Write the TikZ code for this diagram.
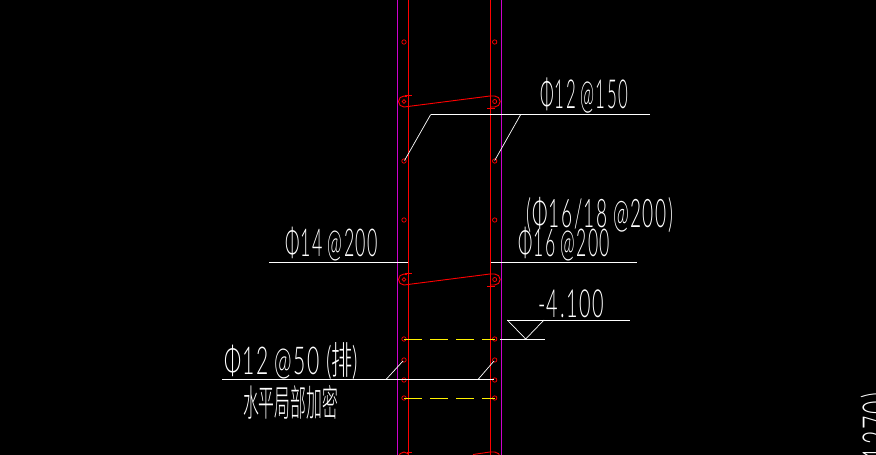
\documentclass[tikz,border=0pt]{standalone}
\usepackage{graphicx}
\usepackage{fontspec}
\setmainfont{Lato Light}[LetterSpace=8,WordSpace=0.8]
\newfontfamily\cjk{Noto Sans CJK SC Light}
\newcommand{\cadtext}[3]{\resizebox{#1pt}{#2pt}{\rule[-0.12em]{0pt}{0.92em}#3}}
\definecolor{wallline}{RGB}{204,0,204}
\tikzset{
  bar/.style={red, line width=1.1pt},
  stirrup/.style={red, line width=0.9pt},
  dot/.style={red, line width=0.7pt},
  leader/.style={white, line width=1pt},
  thinleader/.style={white, line width=0.7pt},
  hidden/.style={yellow, line width=1pt, dash pattern=on 17.5pt off 8.5pt},
  cad/.style={white, inner sep=0pt, outer sep=0pt}
}
\begin{document}
\begin{tikzpicture}[x=1pt, y=-1pt]
  \useasboundingbox (0,0) rectangle (876,455);
  \clip (0,0) rectangle (876,455);
  \fill[black] (0,0) rectangle (876,455);
  % wall faces and vertical bars
  \draw[wallline, line width=0.7pt] (397.5,0) -- (397.5,455);
  \draw[wallline, line width=0.7pt] (501.5,0) -- (501.5,455);
  \draw[bar] (408.5,0) -- (408.5,455);
  \draw[bar] (490.5,0) -- (490.5,455);
  % horizontal bars
  \foreach \y in {42,161,220,339,360,380,398} {
    \draw[dot] (404,\y) circle (2.2);
    \draw[dot] (494.7,\y) circle (2.2);
  }
  % stirrups
  \foreach \y in {101.5,279.5} {
    \draw[stirrup] (404,\y+5.5) arc (90:300:5.5);
    \draw[stirrup] (404,\y+5.5) -- (490,\y-5.5) -- (494.7,\y-5.5) arc (270:450:5.5) -- (490,\y+5.5);
    \draw[dot] (404,\y) circle (1.8);
    \draw[dot] (494.7,\y) circle (2);
    \draw[stirrup] (405,\y-6.5) -- (412,\y-6.5);
    \draw[stirrup] (487,\y+6.5) -- (495,\y+6.5);
  }
  % next stirrup, cut by the lower edge
  \draw[stirrup] (404,457.5) circle (5.5);
  \draw[stirrup] (407,452) -- (412,452);
  \draw[stirrup] (473,454.5) -- (490,452) -- (494.7,452) arc (270:450:5.5);
  % leaders
  \draw[leader] (650,114.5) -- (430.7,114.5);
  \draw[thinleader] (430.7,114.5) -- (404.5,160.5);
  \draw[thinleader] (520.7,114.5) -- (494.7,160.5);
  \draw[leader] (269,262) -- (408,262);
  \draw[leader] (490.7,262) -- (636.7,262);
  \draw[leader] (222,379.5) -- (494,379.5);
  \draw[thinleader] (386,379.5) -- (403,361);
  \draw[thinleader] (478,379.5) -- (494,361);
  % hidden bars
  \draw[hidden] (404,339) -- (495,339);
  \draw[hidden] (404,398) -- (495,398);
  % level mark
  \draw[leader] (507.3,320) -- (630,320);
  \draw[thinleader] (507.3,320) -- (525.7,339) -- (544,320);
  \draw[leader] (500,339) -- (545,339);
  % labels
  \node[cad, anchor=north west] (topspacing) at (540,76) {\cadtext{88}{32}{Φ12 @150}};
  \node[cad, anchor=north west] (altspacing) at (526,196) {\cadtext{147}{31.5}{(Φ16/18 @200)}};
  \node[cad, anchor=north west] (rightspacing) at (518,225.5) {\cadtext{92}{30.7}{Φ16 @200}};
  \node[cad, anchor=north west] (leftspacing) at (285,225.5) {\cadtext{93}{30.7}{Φ14 @200}};
  \node[cad, anchor=north west] (level) at (538,286) {\cadtext{66}{31}{-4.100}};
  \node[cad, anchor=north west] (densespacing) at (224,342) {\cadtext{134}{32}{Φ12 @50 ({\cjk 排})}};
  \node[cad, anchor=north west] (densenote) at (243,385) {\resizebox{95pt}{31pt}{\cjk 水平局部加密}};
  \node[cad, anchor=north east, rotate=90] (cutoff) at (859,393) {\cadtext{75}{32}{(1270)}};
\end{tikzpicture}
\end{document}
